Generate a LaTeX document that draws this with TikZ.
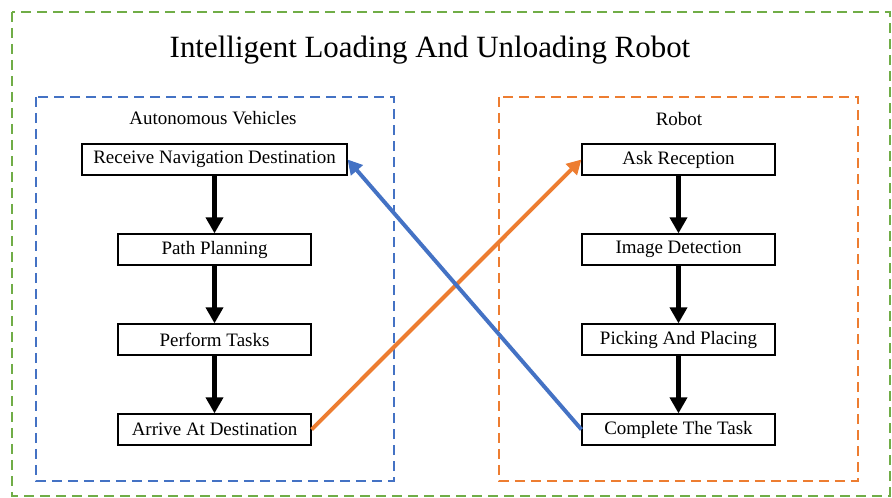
\documentclass[tikz,border=0pt]{standalone}
\usepackage{fontspec}
\setmainfont{Liberation Serif}
\usepackage{tikz}
\usetikzlibrary{positioning,arrows.meta}

\definecolor{frameGreen}{RGB}{112,173,71}
\definecolor{vehBlue}{RGB}{68,114,196}
\definecolor{robOrange}{RGB}{237,125,49}

\tikzset{
  stepbox/.style={draw, line width=0.8pt, fill=white, minimum width=4.825cm, minimum height=0.775cm, inner sep=0pt, font=\fontsize{13.5}{15}\selectfont},
  groupbox/.style={dash pattern=on 0.25cm off 0.15cm, line width=1.4pt},
  flow/.style={line width=3.5pt, -{Triangle[length=0.4cm,width=0.42cm]}},
  cross/.style={line width=2.8pt, -{Triangle[length=0.36cm,width=0.38cm]}}
}

\begin{document}
\begin{tikzpicture}[node distance=2.25cm]
  \useasboundingbox (0,0) rectangle (22.3,12.45);
  % frames
  \draw[groupbox, frameGreen] (0.3,12.15) rectangle (22.25,0.06);
  \draw[groupbox, vehBlue] (0.9,10.025) rectangle (9.85,0.425);
  \draw[groupbox, robOrange] (12.475,10.025) rectangle (21.45,0.425);

  \node[font=\fontsize{22}{26}\selectfont] (title) at (10.75,11.2) {Intelligent Loading And Unloading Robot};
  \node[font=\fontsize{13.5}{15}\selectfont] (vehlabel) at (5.325,9.5) {Autonomous Vehicles};
  \node[font=\fontsize{13.5}{15}\selectfont] (roblabel) at (16.975,9.48) {Robot};

  % autonomous vehicles
  \node[stepbox, minimum width=6.625cm] (recv) at (5.3625,8.4625) {Receive Navigation Destination};
  \node[stepbox, below of=recv] (plan) {Path Planning};
  \node[stepbox, below of=plan] (perform) {Perform Tasks};
  \node[stepbox, below of=perform] (arrive) {Arrive At Destination};
  \draw[flow] (recv) -- (plan);
  \draw[flow] (plan) -- (perform);
  \draw[flow] (perform) -- (arrive);

  % robot
  \node[stepbox] (ask) at (16.9625,8.4625) {Ask Reception};
  \node[stepbox, below of=ask] (detect) {Image Detection};
  \node[stepbox, below of=detect] (pick) {Picking And Placing};
  \node[stepbox, below of=pick] (complete) {Complete The Task};
  \draw[flow] (ask) -- (detect);
  \draw[flow] (detect) -- (pick);
  \draw[flow] (pick) -- (complete);

  % hand over
  \draw[cross, robOrange] (arrive.east) -- (ask.west);
  \draw[cross, vehBlue] (complete.west) -- (recv.east);
\end{tikzpicture}
\end{document}
